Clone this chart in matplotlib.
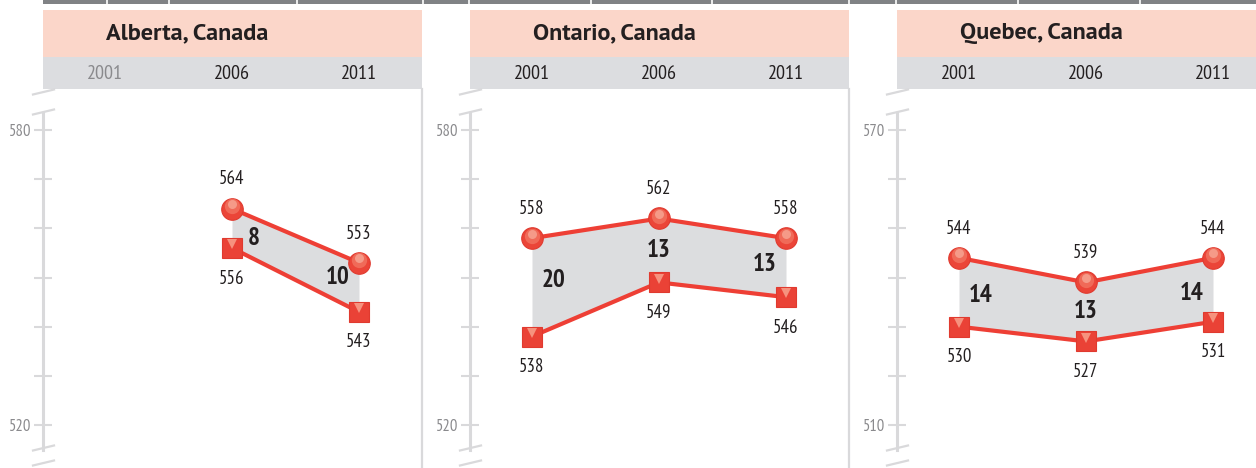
import numpy as np
import matplotlib
matplotlib.use("Agg")
import matplotlib.pyplot as plt
from matplotlib.patches import Rectangle
from matplotlib.lines import Line2D

plt.rcParams['font.family'] = ['PT Sans Narrow', 'DejaVu Sans']

# ---- data ----
years = [2001, 2006, 2011]
regions = ["Alberta, Canada", "Ontario, Canada", "Quebec, Canada"]
top_vals = [[None, 564, 553], [558, 562, 558], [544, 539, 544]]
low_vals = [[None, 556, 543], [538, 549, 546], [530, 527, 531]]
gaps = [[None, 8, 10], [20, 13, 13], [14, 13, 14]]
y_ticks = [[580, 570, 560, 550, 540, 530, 520],
           [580, 570, 560, 550, 540, 530, 520],
           [570, 560, 550, 540, 530, 520, 510]]
tick_labels = [["580", "", "", "", "", "", "520"],
               ["580", "", "", "", "", "", "520"],
               ["570", "", "", "", "", "", "510"]]

W, H = 1256, 468
RED = '#ee3f35'
BAND = '#dcdddf'
INK = '#231f20'
AXG = '#d9d9db'


def fx(px):
    return px / W


def fy(py):
    return 1 - py / H


fig = plt.figure(figsize=(W / 100, H / 100), dpi=100)

# dark strip at the very top
fig.patches.append(Rectangle((fx(43), fy(4)), fx(W - 43), 4 / H, zorder=-5,
                             transform=fig.transFigure, color='#808285', lw=0))
for sx in [107, 169, 297, 423, 469, 591, 712, 849, 896, 1018, 1140]:
    fig.add_artist(Line2D([fx(sx), fx(sx)], [fy(4), fy(0)], color='white', lw=1.2, zorder=-4))

panel_left = [43, 470, 897]
panel_w = 379
px_per_year = 25.4
px_per_unit = 4.917

for i in range(3):
    left = panel_left[i]
    # header boxes
    fig.patches.append(Rectangle((fx(left), fy(57)), fx(panel_w), 47 / H, zorder=-5,
                                 transform=fig.transFigure, color='#fbd6c9', lw=0))
    fig.patches.append(Rectangle((fx(left), fy(89)), fx(panel_w), 32 / H, zorder=-5,
                                 transform=fig.transFigure, color='#dcdde0', lw=0))
    fig.text(fx(left + 63), fy(34), regions[i], fontsize=17.5, fontweight='bold',
             color=INK, va='center', ha='left', family=['PT Sans', 'DejaVu Sans'])

    ax = fig.add_axes([fx(left), fy(468), fx(panel_w), (468 - 89) / H])
    ytop = y_ticks[i][0]
    ybot = y_ticks[i][-1]
    x0 = 2001 - 62 / px_per_year
    x1 = x0 + panel_w / px_per_year
    ax.set_xlim(x0, x1)
    ax.set_ylim(ybot - 43 / px_per_unit, ytop + 41 / px_per_unit)
    ax.patch.set_alpha(0)

    # year labels in the grey strip
    for j, yr in enumerate(years):
        col = '#8a8a8d' if top_vals[i][j] is None else INK
        ax.text(yr, ax.get_ylim()[1] + 15 / px_per_unit, str(yr), ha='center',
                va='center', fontsize=14.5, color=col, clip_on=False)

    # axis
    for s in ['top', 'bottom']:
        ax.spines[s].set_visible(False)
    ax.spines['right'].set_color(AXG)
    ax.spines['right'].set_linewidth(1.6)
    ax.spines['left'].set_color(AXG)
    ax.spines['left'].set_linewidth(2.2)
    ax.spines['left'].set_bounds(ybot - 5.1, ytop + 3.5)
    ax.set_yticks(y_ticks[i])
    ax.set_yticklabels(tick_labels[i])
    ax.tick_params(axis='y', direction='inout', length=12.5, width=1.5, colors=AXG,
                   labelcolor='#8a8a8d', labelsize=12, pad=2)
    ax.set_xticks([])

    # break marks
    for by in [92, 112, 448, 463]:
        fig.add_artist(Line2D([fx(left - 10), fx(left + 11)], [fy(by + 2.5), fy(by - 2.5)],
                              color=AXG, lw=1.6))

    xs = [y for y, v in zip(years, top_vals[i]) if v is not None]
    tv = [v for v in top_vals[i] if v is not None]
    lv = [v for v in low_vals[i] if v is not None]
    gv = [g for g in gaps[i] if g is not None]

    ax.fill_between(xs, tv, lv, color=BAND, lw=0, zorder=1)
    ax.plot(xs, tv, color=RED, lw=3, zorder=2, solid_capstyle='round')
    ax.plot(xs, lv, color=RED, lw=3, zorder=2, solid_capstyle='round')

    # markers: circles on top, squares below
    ax.plot(xs, tv, 'o', ms=15.5, mfc='#eb4538', mec='#e03a2f', mew=0.8, zorder=3)
    ax.plot(xs, [v + 0.5 for v in tv], 'o', ms=11, mfc='#f06a58', mew=0, zorder=4)
    ax.plot(xs, [v + 0.9 for v in tv], 'o', ms=6.5, mfc='#f59a88', mew=0, zorder=5)
    ax.plot(xs, lv, 's', ms=15, mfc='#ea4236', mec='#e03a2f', mew=0.8, zorder=3)
    ax.plot(xs, [v + 0.75 for v in lv], 'v', ms=6.5, mfc='#f6927e', mew=0, zorder=4)

    mid = [(a + b) / 2 for a, b in zip(tv, lv)]
    for j, x in enumerate(xs):
        ax.annotate(str(tv[j]), (x, tv[j]), xytext=(0, 21), textcoords='offset points',
                    ha='center', va='center', fontsize=13.5, color=INK, zorder=6)
        ax.annotate(str(lv[j]), (x, lv[j]), xytext=(0, -22), textcoords='offset points',
                    ha='center', va='center', fontsize=13.5, color=INK, zorder=6)
        if j == 0:
            gx = x + 22 / px_per_year
        elif j == len(xs) - 1:
            gx = x - 21 / px_per_year
        else:
            gx = x
        gy = np.interp(gx, xs, mid)
        ax.text(gx, gy, str(gv[j]), ha='center', va='center', fontsize=18,
                fontweight='bold', color=INK, zorder=6)

fig.savefig("out.png", dpi=100)
